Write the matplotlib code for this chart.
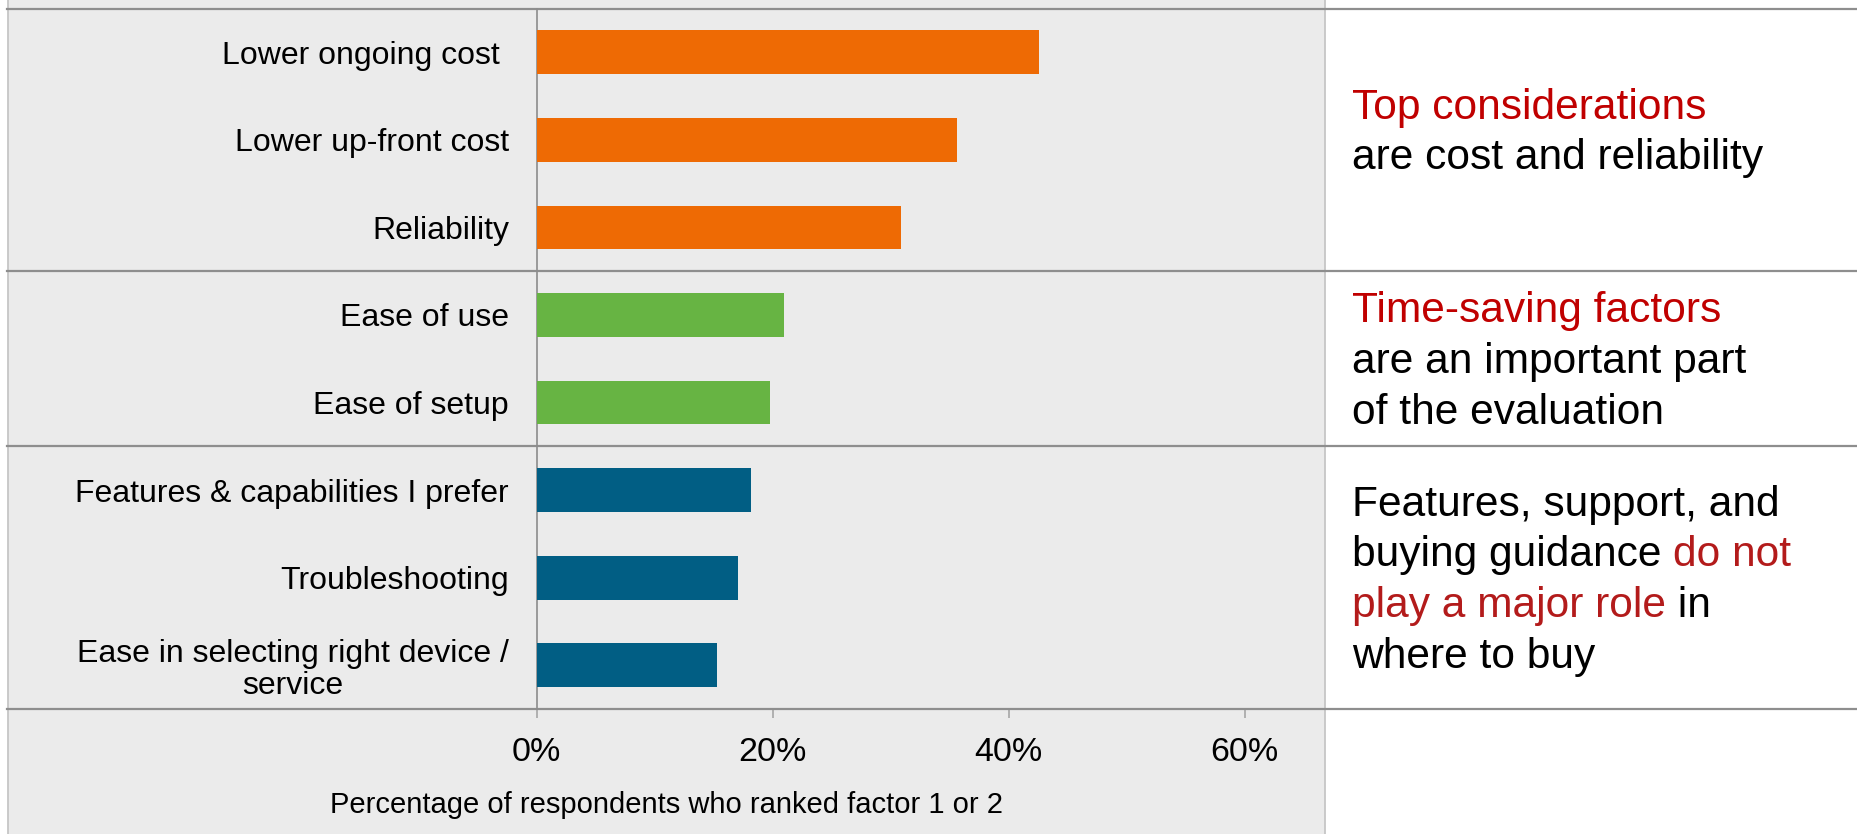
import matplotlib
matplotlib.use('Agg')
import matplotlib.pyplot as plt
from matplotlib.patches import Rectangle

plt.rcParams['font.family'] = ['Liberation Sans', 'DejaVu Sans']

# survey results: share of respondents ranking each factor 1 or 2 (%)
factors = ['Lower ongoing cost ', 'Lower up-front cost', 'Reliability',
           'Ease of use', 'Ease of setup',
           'Features & capabilities I prefer', 'Troubleshooting',
           'Ease in selecting right device /\nservice']
shares = [42.6, 35.6, 30.9, 21.0, 19.8, 18.2, 17.1, 15.3]
groups = [0, 0, 0, 1, 1, 2, 2, 2]
group_colors = ['#EE6A04', '#67B443', '#015E84']
xticks = [0, 20, 40, 60]
xlabel = 'Percentage of respondents who ranked factor 1 or 2'

RED = '#C00000'
RED2 = '#B31B1B'
BLK = 'black'
notes = [
    [[('Top considerations', RED)],
     [('are cost and reliability', BLK)]],
    [[('Time-saving factors', RED)],
     [('are an important part', BLK)],
     [('of the evaluation', BLK)]],
    [[('Features, support, and', BLK)],
     [('buying guidance ', BLK), ('do not', RED2)],
     [('play a major role', RED2), (' in', BLK)],
     [('where to buy', BLK)]],
]

W, H = 1857, 834
fig = plt.figure(figsize=(W / 100, H / 100), dpi=100)

# grey panel behind the chart
fig.patches.append(Rectangle((8.3 / W, -0.01), (1325 - 8.3) / W, 1.02,
                             transform=fig.transFigure, facecolor='#EBEBEB',
                             edgecolor='#C6C6C6', lw=1.3, zorder=-1))

ax_l, ax_w = 536.5, 708.0
ax = fig.add_axes([ax_l / W, 1 - 709 / H, ax_w / W, (709 - 8.5) / H])
ax.set_facecolor('none')

ax.barh(range(len(shares)), shares, height=0.5,
        color=[group_colors[g] for g in groups], zorder=3)
ax.set_ylim(len(shares) - 0.5, -0.5)
ax.set_xlim(0, 60)

for s in ['top', 'right', 'bottom']:
    ax.spines[s].set_visible(False)
ax.spines['left'].set_color('#8C8C8C')
ax.spines['left'].set_linewidth(1.2)

ax.set_xticks(xticks, [f'{t}%' for t in xticks])
ax.tick_params(axis='x', length=6.8, width=1.1, color='#A0A0A0', pad=13.5,
               labelsize=24.5)
ax.set_yticks(range(len(factors)), factors)
ax.tick_params(axis='y', length=0, pad=19.8, labelsize=23)
for lbl in ax.get_yticklabels():
    lbl.set_multialignment('center')
    lbl.set_linespacing(1.1)

# separators between groups, running across the whole width
bounds = [-0.5] + [i - 0.5 for i in range(1, len(groups)) if groups[i] != groups[i - 1]] + [len(groups) - 0.5]
for b in bounds:
    ax.axhline(b, xmin=(7 - ax_l) / ax_w, xmax=(W - ax_l) / ax_w, clip_on=False,
               color='#8E8E8E', lw=1.6, zorder=2)

fig.text(666.8 / W, 1 - 813 / H, xlabel, ha='center', va='baseline', fontsize=21)

# commentary on the right
renderer = fig.canvas.get_renderer()
starts = [118.5, 322.3, 515.7]
step = 50.7
for block, y0 in zip(notes, starts):
    for k, line in enumerate(block):
        x = 1352.0
        y = y0 + k * step
        for txt, col in line:
            t = fig.text(x / W, 1 - y / H, txt, color=col, fontsize=30.6,
                         ha='left', va='baseline')
            x += t.get_window_extent(renderer).width

fig.savefig('out.png', dpi=100)
